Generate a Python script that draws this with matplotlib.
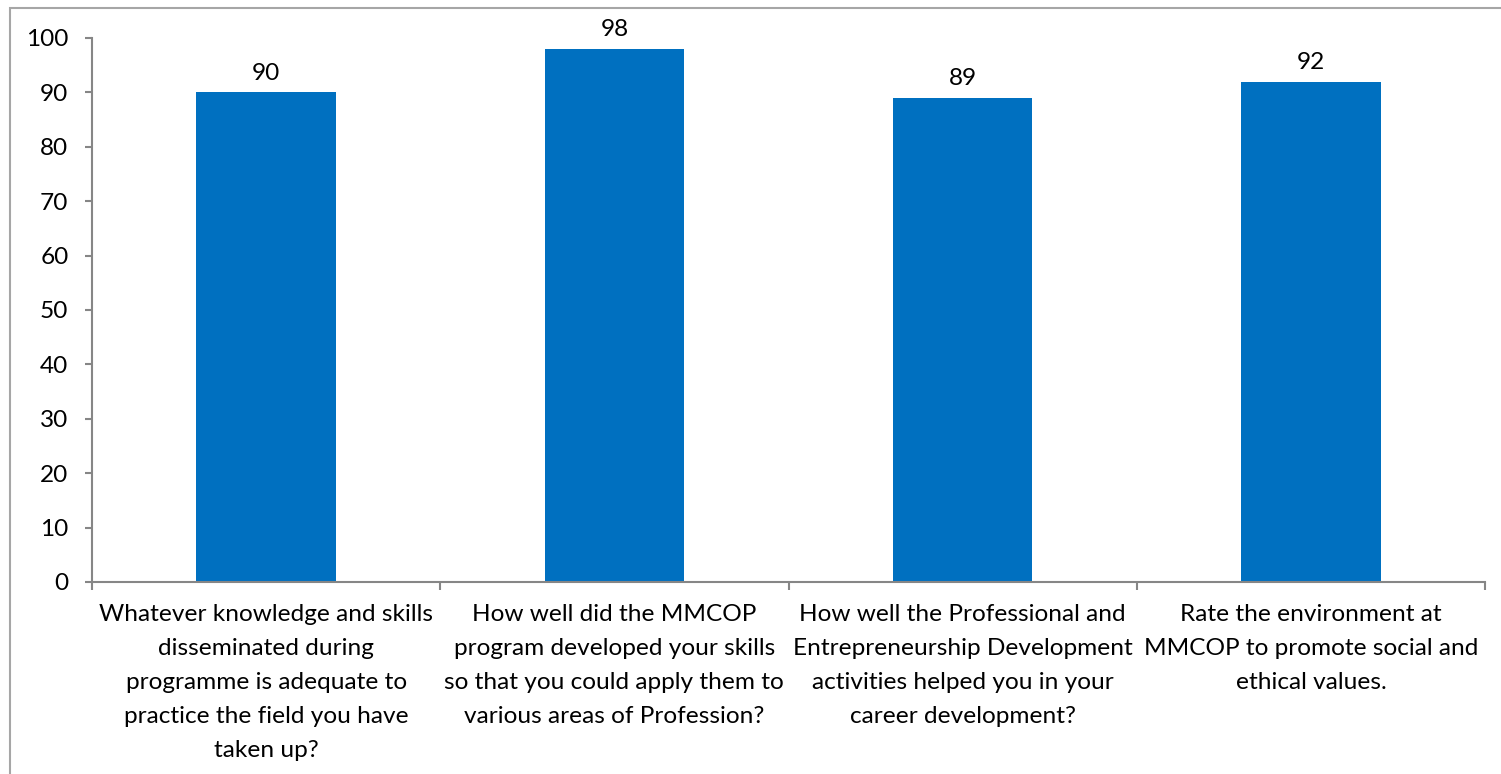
import numpy as np
import matplotlib
matplotlib.use("Agg")
from matplotlib import pyplot as plt
from matplotlib.patches import Rectangle

plt.rcParams['font.family'] = ['Lato', 'DejaVu Sans']

categories = [
    "Whatever knowledge and skills\ndisseminated during\nprogramme is adequate to\npractice the field you have\ntaken up?",
    "How well did the MMCOP\nprogram developed your skills\nso that you could apply them to\nvarious areas of Profession?",
    "How well the Professional and\nEntrepreneurship Development\nactivities helped you in your\ncareer development?",
    "Rate the environment at\nMMCOP to promote social and\nethical values.",
]
values = [90, 98, 89, 92]
yticks = [0, 10, 20, 30, 40, 50, 60, 70, 80, 90, 100]

W, H = 1501, 774
fig = plt.figure(figsize=(W / 100, H / 100), dpi=100)
ax = fig.add_axes([92 / W, 1 - 582 / H, (1485 - 92) / W, (582 - 38) / H])

# outer chart border
fig.patches.append(Rectangle((10 / W, -0.1), 1.2, 1 - 8 / H + 0.1, transform=fig.transFigure,
                             fill=False, edgecolor='#a6a6a6', linewidth=1.5))

fs = 17.6
x = np.arange(len(values))
ax.bar(x, values, width=0.4, color='#0070c0')
for xi, v in zip(x, values):
    ax.text(xi, v + 1.6, str(v), ha='center', va='bottom', fontsize=fs)

ax.set_xlim(-0.5, len(values) - 0.5)
ax.set_ylim(0, 100)
ax.set_yticks(yticks)
ax.tick_params(axis='y', labelsize=fs, length=5, color='#868686', width=1.5, pad=12)

ax.set_xticks(x)
ax.set_xticklabels(categories, fontsize=fs, linespacing=1.76)
ax.tick_params(axis='x', length=0, pad=16)
ax.set_xticks(np.arange(-0.5, len(values)), minor=True)
ax.tick_params(axis='x', which='minor', length=6, color='#868686', width=1.5)

for s in ['top', 'right']:
    ax.spines[s].set_visible(False)
ax.spines['left'].set_color('#868686')
ax.spines['bottom'].set_color('#868686')
ax.spines['left'].set_linewidth(1.5)
ax.spines['bottom'].set_linewidth(1.5)

fig.savefig('out.png', dpi=100)
